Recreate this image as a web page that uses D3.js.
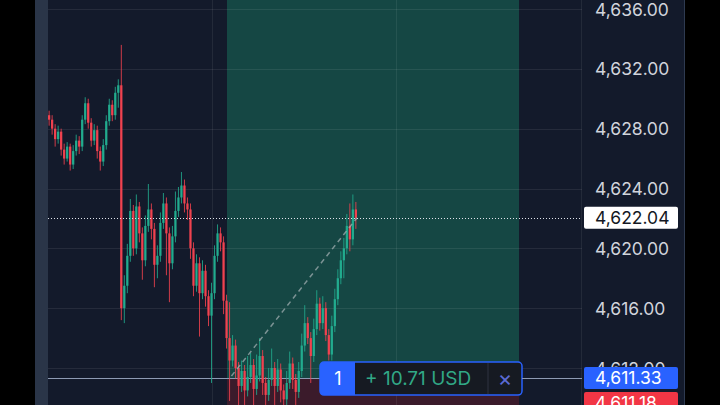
<!DOCTYPE html>
<html><head><meta charset="utf-8">
<script src="https://cdn.jsdelivr.net/npm/d3@7/dist/d3.min.js"></script>
<style>html,body{margin:0;padding:0;background:#000;overflow:hidden}svg{display:block}</style>
</head><body><svg id="c" width="720" height="405"></svg>
<script>
const opens = [4628.9,4628.6,4628.0,4627.3,4627.8,4626.6,4626.0,4626.8,4625.6,4626.5,4627.2,4626.8,4628.6,4629.7,4628.4,4627.2,4627.9,4626.5,4625.8,4626.9,4628.5,4629.6,4628.9,4630.4,4630.9,4616.0,4617.5,4619.5,4622.5,4620.0,4622.8,4621.0,4619.2,4621.5,4622.6,4621.3,4618.9,4619.5,4621.7,4623.0,4621.0,4619.0,4620.8,4622.5,4623.4,4624.2,4623.0,4622.6,4620.0,4617.5,4619.0,4617.0,4618.5,4616.8,4615.5,4617.0,4619.5,4621.0,4620.4,4616.5,4614.0,4612.5,4613.5,4612.0,4610.8,4611.8,4610.5,4611.4,4612.2,4610.6,4611.5,4612.8,4611.0,4610.2,4611.2,4612.0,4610.8,4611.9,4610.5,4609.9,4611.0,4612.3,4611.2,4610.4,4611.8,4613.5,4615.0,4614.0,4612.8,4614.6,4616.3,4615.0,4616.0,4614.2,4612.9,4614.8,4616.6,4618.0,4619.2,4620.0,4621.5,4620.6,4622.6];
const highs = [4629.2,4628.9,4628.3,4628.2,4628.0,4627.0,4627.1,4627.0,4626.9,4627.6,4627.5,4628.9,4630.1,4630.0,4628.7,4628.3,4628.2,4626.8,4627.3,4628.9,4630.0,4629.9,4630.8,4631.3,4633.6,4618.2,4620.3,4623.3,4622.9,4623.6,4623.1,4621.4,4622.2,4624.3,4623.0,4621.7,4620.2,4622.4,4623.7,4623.4,4621.4,4621.5,4623.8,4624.1,4625.1,4624.6,4623.4,4623.0,4620.4,4619.6,4619.4,4619.2,4618.9,4617.2,4617.7,4620.2,4621.6,4621.4,4620.8,4616.9,4616.4,4614.2,4613.9,4612.4,4612.5,4612.2,4612.8,4613.0,4612.6,4612.9,4614.0,4613.2,4611.4,4612.0,4613.3,4612.4,4612.6,4612.3,4610.9,4611.8,4613.1,4612.7,4611.6,4612.4,4614.3,4616.2,4615.4,4614.4,4615.3,4617.2,4616.7,4616.8,4616.4,4614.6,4615.5,4617.3,4618.6,4619.8,4620.7,4622.3,4623.0,4623.6,4623.1];
const lows = [4628.2,4627.6,4626.8,4627.0,4626.2,4625.6,4625.8,4625.2,4625.3,4626.2,4626.3,4626.5,4628.3,4628.0,4626.8,4626.9,4626.0,4625.2,4625.5,4626.6,4628.2,4628.5,4628.6,4629.4,4615.2,4615.0,4617.0,4619.1,4619.5,4619.6,4620.4,4617.9,4618.8,4621.1,4620.6,4617.4,4618.0,4619.1,4621.3,4618.2,4616.4,4618.6,4620.4,4622.1,4623.0,4622.4,4621.9,4619.3,4616.8,4617.1,4614.1,4616.6,4616.1,4614.8,4611.0,4616.6,4619.1,4619.8,4615.6,4613.3,4609.8,4612.1,4611.3,4608.9,4610.4,4608.8,4610.1,4611.0,4608.9,4610.2,4611.1,4610.2,4608.8,4609.8,4610.8,4609.0,4610.4,4609.7,4608.8,4609.5,4610.6,4610.6,4608.9,4610.0,4611.4,4613.1,4613.6,4611.0,4612.4,4614.2,4614.5,4614.6,4613.8,4612.5,4612.5,4614.4,4616.2,4617.6,4618.0,4619.6,4619.8,4620.2,4621.3];
const closes = [4628.6,4628.0,4627.3,4627.8,4626.6,4626.0,4626.8,4625.6,4626.5,4627.2,4626.8,4628.6,4629.7,4628.4,4627.2,4627.9,4626.5,4625.8,4626.9,4628.5,4629.6,4628.9,4630.4,4630.9,4616.0,4617.5,4619.5,4622.5,4620.0,4622.8,4621.0,4619.2,4621.5,4622.6,4621.3,4618.9,4619.5,4621.7,4623.0,4621.0,4619.0,4620.8,4622.5,4623.4,4624.2,4623.0,4622.6,4620.0,4617.5,4619.0,4617.0,4618.5,4616.8,4615.5,4617.0,4619.5,4621.0,4620.4,4616.5,4614.0,4612.5,4613.5,4612.0,4610.8,4611.8,4610.5,4611.4,4612.2,4610.6,4611.5,4612.8,4611.0,4610.2,4611.2,4612.0,4610.8,4611.9,4610.5,4609.9,4611.0,4612.3,4611.2,4610.4,4611.8,4613.5,4615.0,4614.0,4612.8,4614.6,4616.3,4615.0,4616.0,4614.2,4612.9,4614.8,4616.6,4618.0,4619.2,4620.0,4621.5,4620.6,4622.6,4622.04];
const tickValues = [4636, 4632, 4628, 4624, 4620, 4616, 4612];
const lastPrice = 4622.04;
const entryPrice = 4611.33;
const stopPrice = 4611.18;
const positionQty = "1";
const pnlText = "+ 10.71 USD";

const svg = d3.select("#c");
const W = 720, H = 405;
const plotL = 48, plotR = 582, axisR = 684;
const FONT = "Inter, 'Noto Sans', sans-serif";

const y = d3.scaleLinear().domain([4636, 4612]).range([9, 368]);
const idx = d3.range(closes.length);
const x = d3.scaleBand().domain(idx).range([48, 48 + closes.length * 3]).paddingInner(0.25);

// backgrounds
svg.append("rect").attr("width", W).attr("height", H).attr("fill", "#000");
svg.append("rect").attr("x", 35).attr("y", 0).attr("width", 13).attr("height", H).attr("fill", "#2a3548");
svg.append("rect").attr("x", plotL).attr("y", 0).attr("width", axisR - plotL).attr("height", H).attr("fill", "#131a2b");

// position zone
const zoneL = 227, zoneR = 519;
svg.append("rect").attr("x", zoneL).attr("y", 0).attr("width", zoneR - zoneL)
  .attr("height", y(entryPrice)).attr("fill", "#154744");
svg.append("rect").attr("x", zoneL).attr("y", y(entryPrice)).attr("width", zoneR - zoneL)
  .attr("height", H - y(entryPrice)).attr("fill", "#3b1b2b");

// grid
const grid = svg.append("g");
grid.selectAll("line.h").data(tickValues).join("line")
  .attr("x1", plotL).attr("x2", plotR).attr("y1", d => Math.round(y(d)) + 0.5).attr("y2", d => Math.round(y(d)) + 0.5)
  .attr("stroke", "#ffffff").attr("stroke-opacity", 0.08);
grid.selectAll("line.v").data([212, 396, 581]).join("line")
  .attr("x1", d => d + 0.5).attr("x2", d => d + 0.5).attr("y1", 0).attr("y2", H)
  .attr("stroke", "#ffffff").attr("stroke-opacity", 0.07);
svg.append("line").attr("x1", axisR + 0.5).attr("x2", axisR + 0.5).attr("y1", 0).attr("y2", H)
  .attr("stroke", "#2e3a50");

// entry line
svg.append("line").attr("x1", plotL).attr("x2", plotR).attr("y1", Math.round(y(entryPrice)) + 0.5).attr("y2", Math.round(y(entryPrice)) + 0.5)
  .attr("stroke", "#8d9ab3").attr("stroke-width", 1.2);

// candles
const up = "#22ab8e", dn = "#f0424f";
const cg = svg.append("g");
const cw = x.bandwidth();
cg.selectAll("line.w").data(idx).join("line")
  .attr("x1", i => x(i) + cw / 2).attr("x2", i => x(i) + cw / 2)
  .attr("y1", i => y(highs[i])).attr("y2", i => y(lows[i]))
  .attr("stroke", i => closes[i] >= opens[i] ? up : dn).attr("stroke-width", 1).attr("opacity", 0.85);
cg.selectAll("rect.b").data(idx).join("rect")
  .attr("x", i => x(i)).attr("width", cw)
  .attr("y", i => y(Math.max(opens[i], closes[i])))
  .attr("height", i => Math.max(1, Math.abs(y(opens[i]) - y(closes[i]))))
  .attr("fill", i => closes[i] >= opens[i] ? up : dn);

// trend dashed line
svg.append("line").attr("x1", x(61)).attr("y1", y(entryPrice) - 2).attr("x2", x(102) + cw).attr("y2", y(lastPrice))
  .attr("stroke", "#a8b3b6").attr("stroke-opacity", 0.7).attr("stroke-width", 1.5).attr("stroke-dasharray", "5,4");

// last price dotted line
svg.append("line").attr("x1", plotL).attr("x2", plotR).attr("y1", Math.round(y(lastPrice)) + 0.5).attr("y2", Math.round(y(lastPrice)) + 0.5)
  .attr("stroke", "#e0e3eb").attr("stroke-width", 1).attr("stroke-dasharray", "1,2");

// axis
const axis = d3.axisRight(y).tickValues(tickValues).tickSize(0).tickPadding(0)
  .tickFormat(d => d3.format(",.2f")(d));
const ag = svg.append("g").attr("transform", `translate(595,0)`).call(axis);
ag.select(".domain").remove();
ag.selectAll("text").attr("fill", "#d1d4dc").attr("font-family", FONT).attr("font-size", 17.5).attr("dy", "0.35em");

// price labels
function priceLabel(val, bg, fg, yy) {
  const g = svg.append("g");
  g.append("rect").attr("x", 584).attr("y", yy - 11).attr("width", 94).attr("height", 22).attr("rx", 2).attr("fill", bg);
  g.append("text").attr("x", 595).attr("y", yy).attr("dy", "0.36em")
    .attr("fill", fg).attr("font-family", FONT).attr("font-size", 17.5)
    .text(d3.format(",.2f")(val));
}
priceLabel(lastPrice, "#ffffff", "#131722", y(lastPrice));
priceLabel(entryPrice, "#2962ff", "#ffffff", y(entryPrice));
priceLabel(stopPrice, "#f23645", "#ffffff", y(entryPrice) + 25);

// position box
const bx = 320, by = y(entryPrice) - 16, bw = 202, bh = 33;
const pb = svg.append("g");
pb.append("rect").attr("x", bx).attr("y", by).attr("width", bw).attr("height", bh).attr("rx", 4)
  .attr("fill", "#161a22").attr("stroke", "#2962ff").attr("stroke-width", 1.5);
pb.append("path").attr("d", `M${bx+35},${by} H${bx+4} a4,4 0 0 0 -4,4 V${by+bh-4} a4,4 0 0 0 4,4 H${bx+35} Z`).attr("fill", "#2962ff");
pb.append("line").attr("x1", bx + 168).attr("x2", bx + 168).attr("y1", by + 1).attr("y2", by + bh - 1).attr("stroke", "#2e3240");
pb.append("text").attr("x", bx + 18).attr("y", by + bh / 2).attr("dy", "0.36em").attr("text-anchor", "middle")
  .attr("fill", "#ffffff").attr("font-family", FONT).attr("font-size", 18).text(positionQty);
pb.append("text").attr("x", bx + 45).attr("y", by + bh / 2).attr("dy", "0.36em")
  .attr("fill", "#31a886").attr("font-family", FONT).attr("font-size", 19).text(pnlText);
pb.append("text").attr("x", bx + 185).attr("y", by + bh / 2).attr("dy", "0.36em").attr("text-anchor", "middle")
  .attr("fill", "#5b6bd6").attr("font-family", FONT).attr("font-size", 22).text("×");
svg.append("line").attr("x1", bx + bw).attr("x2", plotR).attr("y1", Math.round(y(entryPrice)) + 0.5).attr("y2", Math.round(y(entryPrice)) + 0.5)
  .attr("stroke", "#8d9ab3").attr("stroke-width", 1.2);
</script></body></html>
